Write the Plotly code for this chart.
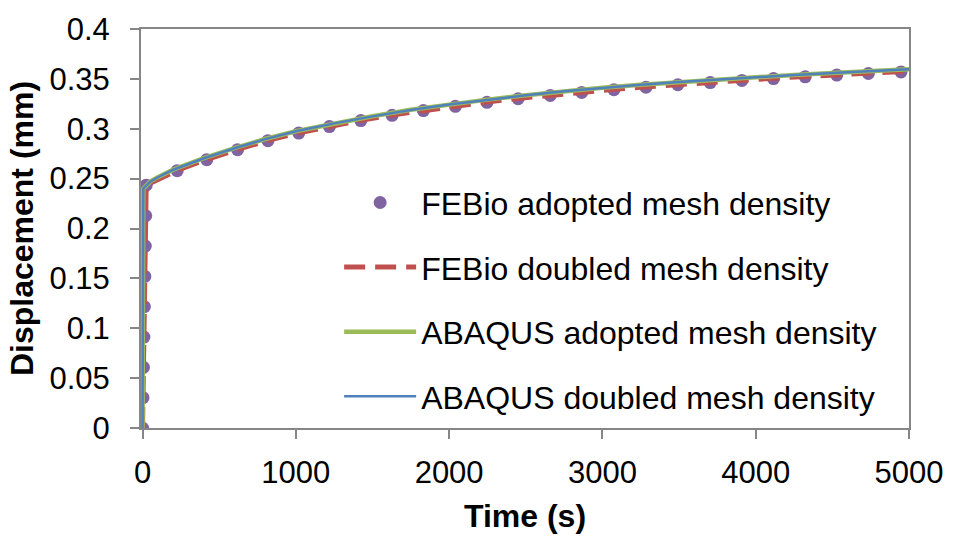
import plotly.graph_objects as go

# FEBio, adopted mesh density (loading ramp then creep phase)
febio_adopted_t = [0, 3, 6, 9, 12, 15, 18, 21, 24,
                   226, 419, 620, 818, 1019, 1219, 1424, 1628, 1832, 2041,
                   2247, 2450, 2660, 2865, 3075, 3284, 3492, 3703, 3910,
                   4116, 4323, 4529, 4735, 4948]
febio_adopted_u = [0.0, 0.0304, 0.0608, 0.0912, 0.1216, 0.1520, 0.1824, 0.2128, 0.2434,
                   0.2580, 0.2690, 0.2790, 0.2880, 0.2957, 0.3022, 0.3082, 0.3135, 0.3182, 0.3225,
                   0.3265, 0.3301, 0.3334, 0.3364, 0.3392, 0.3417, 0.3441, 0.3463, 0.3484,
                   0.3503, 0.3521, 0.3538, 0.3554, 0.3570]

# FEBio, doubled mesh density
febio_doubled_t = [0, 3, 6, 9, 12, 15, 18, 21, 24,
                   226, 419, 620, 818, 1019, 1219, 1424, 1628, 1832, 2041,
                   2247, 2450, 2660, 2865, 3075, 3284, 3492, 3703, 3910,
                   4116, 4323, 4529, 4735, 4948, 5000]
febio_doubled_u = [0.0, 0.0304, 0.0608, 0.0912, 0.1216, 0.1520, 0.1824, 0.2128, 0.2436,
                   0.2583, 0.2693, 0.2793, 0.2883, 0.2960, 0.3025, 0.3085, 0.3138, 0.3185, 0.3228,
                   0.3268, 0.3304, 0.3337, 0.3367, 0.3395, 0.3420, 0.3444, 0.3466, 0.3487,
                   0.3506, 0.3524, 0.3541, 0.3557, 0.3573, 0.3577]

# ABAQUS results
abaqus_t = [0, 5, 50, 100, 200, 300, 400, 600, 800, 1000, 1250, 1500, 1750, 2000,
            2250, 2500, 2750, 3000, 3250, 3500, 3750, 4000, 4250, 4500, 4750, 5000]
abaqus_adopted_u = [0.0, 0.2400, 0.2470, 0.2515, 0.2590, 0.2650, 0.2705, 0.2805, 0.2897,
                    0.2975, 0.3055, 0.3125, 0.3190, 0.3245, 0.3292, 0.3336, 0.3376,
                    0.3411, 0.3442, 0.3469, 0.3495, 0.3518, 0.3540, 0.3560, 0.3579, 0.3597]
abaqus_doubled_u = [0.0, 0.2400, 0.2469, 0.2514, 0.2589, 0.2649, 0.2704, 0.2804, 0.2896,
                    0.2974, 0.3054, 0.3124, 0.3189, 0.3244, 0.3291, 0.3335, 0.3375,
                    0.3410, 0.3441, 0.3468, 0.3494, 0.3517, 0.3539, 0.3559, 0.3578, 0.3596]

x_ticks = [0, 1000, 2000, 3000, 4000, 5000]
y_ticks = [0, 0.05, 0.1, 0.15, 0.2, 0.25, 0.3, 0.35, 0.4]
y_tick_labels = ["0", "0.05", "0.1", "0.15", "0.2", "0.25", "0.3", "0.35", "0.4"]

FONT = "Liberation Sans, Arial, sans-serif"
AXIS_GREY = "#868686"

fig = go.Figure()
fig.add_trace(go.Scatter(
    x=febio_adopted_t, y=febio_adopted_u, mode="markers",
    name="FEBio adopted mesh density", legendgroup="a",
    marker=dict(color="#8064A2", size=13, line=dict(width=0)),
))
fig.add_trace(go.Scatter(
    x=febio_doubled_t, y=febio_doubled_u, mode="lines",
    name="FEBio doubled mesh density", legendgroup="b",
    line=dict(color="#C0504D", width=5, dash="21px,10px"),
))
fig.add_trace(go.Scatter(
    x=abaqus_t, y=abaqus_adopted_u, mode="lines",
    name="ABAQUS adopted mesh density", legendgroup="c",
    line=dict(color="#9BBB59", width=4.5),
))
fig.add_trace(go.Scatter(
    x=abaqus_t, y=abaqus_doubled_u, mode="lines",
    name="ABAQUS doubled mesh density", legendgroup="d",
    line=dict(color="#4F81BD", width=2.5),
))

axis_common = dict(
    showgrid=False, zeroline=False, showline=True, linecolor=AXIS_GREY,
    linewidth=2, mirror=True, ticks="outside", ticklen=9, tickwidth=2,
    tickcolor=AXIS_GREY, layer="below traces",
    tickfont=dict(family=FONT, size=31, color="black"),
)

fig.update_layout(
    width=955, height=540,
    margin=dict(l=141, r=41, t=20, b=103),
    paper_bgcolor="white", plot_bgcolor="white",
    font=dict(family=FONT, size=31, color="black"),
    xaxis=dict(range=[-10, 5000], tickvals=x_ticks, ticklabelstandoff=7,
               title=dict(text="<b>Time (s)</b>", font=dict(family=FONT, size=32), standoff=15),
               **axis_common),
    yaxis=dict(range=[0, 0.4], tickvals=y_ticks, ticktext=y_tick_labels, ticklabelstandoff=14,
               title=dict(text="<b>Displacement (mm)</b>", font=dict(family=FONT, size=32), standoff=6),
               **axis_common),
    showlegend=True,
    legend=dict(x=0.258, xanchor="left", y=0.3215, yanchor="middle",
                bgcolor="rgba(0,0,0,0)", borderwidth=0,
                font=dict(family=FONT, size=32, color="black"),
                itemwidth=72, tracegroupgap=20, traceorder="grouped"),
)

fig.write_html("out.html")
